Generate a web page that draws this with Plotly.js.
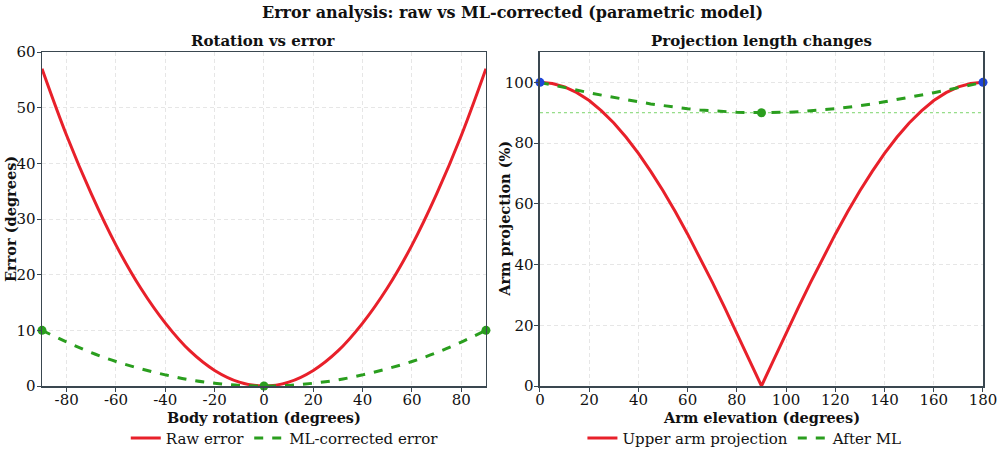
<!DOCTYPE html>
<html>
<head>
<meta charset="utf-8">
<script src="https://cdn.plot.ly/plotly-3.0.1.min.js"></script>
<style>
  body { margin: 0; background: #fff; }
  #chart { width: 1000px; height: 459px; }
</style>
</head>
<body>
<div id="chart"></div>
<script>
// left panel: body rotation vs error
var rotation = [-90, -80, -70, -60, -50, -40, -30, -20, -10, 0, 10, 20, 30, 40, 50, 60, 70, 80, 90];
var rawError = [57, 45, 34.5, 25.3, 17.6, 11.3, 6.3, 2.8, 0.7, 0, 0.7, 2.8, 6.3, 11.3, 17.6, 25.3, 34.5, 45, 57];
var mlError = [10, 7.9, 6.0, 4.4, 3.1, 2.0, 1.1, 0.5, 0.1, 0, 0.1, 0.5, 1.1, 2.0, 3.1, 4.4, 6.0, 7.9, 10];
var mlMarkX = [-90, 0, 90];
var mlMarkY = [10, 0, 10];
var rotationTicks = [-80, -60, -40, -20, 0, 20, 40, 60, 80];
var rotationTickText = ['-80', '-60', '-40', '-20', '0', '20', '40', '60', '80'];

// right panel: arm elevation vs projection
var elevation = [0, 5, 10, 15, 20, 25, 30, 35, 40, 45, 50, 55, 60, 65, 70, 75, 80, 85, 90,
                 95, 100, 105, 110, 115, 120, 125, 130, 135, 140, 145, 150, 155, 160, 165, 170, 175, 180];
var upperArm = [100, 99.6, 98.5, 96.6, 94, 90.6, 86.6, 81.9, 76.6, 70.7, 64.3, 57.4, 50, 42.3, 34.2, 25.9, 17.4, 8.7, 0,
                8.7, 17.4, 25.9, 34.2, 42.3, 50, 57.4, 64.3, 70.7, 76.6, 81.9, 86.6, 90.6, 94, 96.6, 98.5, 99.6, 100];
var afterML = [100, 99.1, 98.3, 97.4, 96.6, 95.8, 95, 94.3, 93.6, 92.9, 92.3, 91.8, 91.3, 90.9, 90.6, 90.3, 90.15, 90.04, 90,
               90.04, 90.15, 90.3, 90.6, 90.9, 91.3, 91.8, 92.3, 92.9, 93.6, 94.3, 95, 95.8, 96.6, 97.4, 98.3, 99.1, 100];
var endX = [0, 180];
var endY = [100, 100];
var midX = [90];
var midY = [90];
var refLineX = [0, 180];
var refLineY = [90, 90];

var red = '#e8202a';
var green = '#2a9e1e';
var font = 'DejaVu Serif, Liberation Serif, serif';

var data = [
  { x: rotation, y: rawError, type: 'scatter', mode: 'lines', name: 'Raw error',
    line: { color: red, width: 3, shape: 'spline' }, xaxis: 'x', yaxis: 'y', legend: 'legend' },
  { x: rotation, y: mlError, type: 'scatter', mode: 'lines', name: 'ML-corrected error',
    line: { color: green, width: 3, dash: 'dash', shape: 'spline' }, xaxis: 'x', yaxis: 'y', legend: 'legend' },
  { x: mlMarkX, y: mlMarkY, type: 'scatter', mode: 'markers', showlegend: false,
    marker: { color: green, size: 9 }, xaxis: 'x', yaxis: 'y', cliponaxis: false },

  { x: refLineX, y: refLineY, type: 'scatter', mode: 'lines', showlegend: false,
    line: { color: '#7ad46a', width: 1, dash: 'dot' }, xaxis: 'x2', yaxis: 'y2' },
  { x: elevation, y: upperArm, type: 'scatter', mode: 'lines', name: 'Upper arm projection',
    line: { color: red, width: 3 }, xaxis: 'x2', yaxis: 'y2', legend: 'legend2' },
  { x: elevation, y: afterML, type: 'scatter', mode: 'lines', name: 'After ML',
    line: { color: green, width: 3, dash: 'dash' }, xaxis: 'x2', yaxis: 'y2', legend: 'legend2' },
  { x: midX, y: midY, type: 'scatter', mode: 'markers', showlegend: false,
    marker: { color: green, size: 9 }, xaxis: 'x2', yaxis: 'y2' },
  { x: endX, y: endY, type: 'scatter', mode: 'markers', showlegend: false,
    marker: { color: '#1f45d8', size: 9 }, xaxis: 'x2', yaxis: 'y2', cliponaxis: false }
];

var axisCommon = {
  showline: true, mirror: true, linecolor: '#3a4750', linewidth: 1.5,
  ticks: 'outside', ticklen: 4, tickcolor: '#3a4750',
  showgrid: true, gridcolor: '#e6e6e6', griddash: '4px,3px', gridwidth: 1,
  zeroline: false, automargin: false,
  tickfont: { family: font, size: 15, color: '#111' }
};

function ax(extra) {
  return Object.assign({}, axisCommon, extra);
}

var titleFont = { family: font, size: 14.5, color: '#111' };
var subFont = { family: font, size: 15, color: '#111' };

// axis titles placed as annotations so they sit where the reference has them
function label(text, x, y, angle) {
  return { text: '<b>' + text + '</b>', xref: 'paper', yref: 'paper', x: x, y: y,
           xanchor: 'center', yanchor: 'middle', showarrow: false, textangle: angle || 0,
           font: titleFont };
}

var layout = {
  width: 1000, height: 459,
  margin: { l: 42, r: 17, t: 52, b: 73 },
  paper_bgcolor: '#fff', plot_bgcolor: '#fff',
  title: { text: '<b>Error analysis: raw vs ML-corrected (parametric model)</b>',
           x: 0.5, xref: 'paper', y: 0.985, yref: 'container', yanchor: 'top',
           font: { family: font, size: 16, color: '#111' } },
  xaxis: ax({ domain: [0, 0.4718], range: [-90, 90], tickvals: rotationTicks, ticktext: rotationTickText,
              anchor: 'y', ticklabelstandoff: -5 }),
  yaxis: ax({ domain: [0, 1], range: [0, 60], dtick: 10, anchor: 'x', ticklabelstandoff: -2 }),
  xaxis2: ax({ domain: [0.5292, 1], range: [0, 180], dtick: 20, anchor: 'y2', ticklabelstandoff: -5 }),
  yaxis2: ax({ domain: [0, 1], range: [0, 110], tickvals: [0, 20, 40, 60, 80, 100], anchor: 'x2', ticklabelstandoff: -2 }),
  annotations: [
    { text: '<b>Rotation vs error</b>', xref: 'paper', yref: 'paper', x: 0.2359, y: 1.0,
      xanchor: 'center', yanchor: 'bottom', showarrow: false, font: subFont },
    { text: '<b>Projection length changes</b>', xref: 'paper', yref: 'paper', x: 0.7646, y: 1.0,
      xanchor: 'center', yanchor: 'bottom', showarrow: false, font: subFont },
    label('Body rotation (degrees)', 0.2359, -0.094),
    label('Arm elevation (degrees)', 0.7646, -0.094),
    label('Error (degrees)', -0.034, 0.5, -90),
    label('Arm projection (%)', 0.4908, 0.5, -90)
  ],
  legend: { orientation: 'h', x: 0.258, xanchor: 'center', y: 0.045, yref: 'container', yanchor: 'middle',
            itemwidth: 30, font: { family: font, size: 15, color: '#111' }, bgcolor: 'rgba(0,0,0,0)' },
  legend2: { orientation: 'h', x: 0.747, xanchor: 'center', y: 0.045, yref: 'container', yanchor: 'middle',
             itemwidth: 30, font: { family: font, size: 15, color: '#111' }, bgcolor: 'rgba(0,0,0,0)' },
  showlegend: true
};

Plotly.newPlot('chart', data, layout, { displayModeBar: false, staticPlot: true });
</script>
</body>
</html>
